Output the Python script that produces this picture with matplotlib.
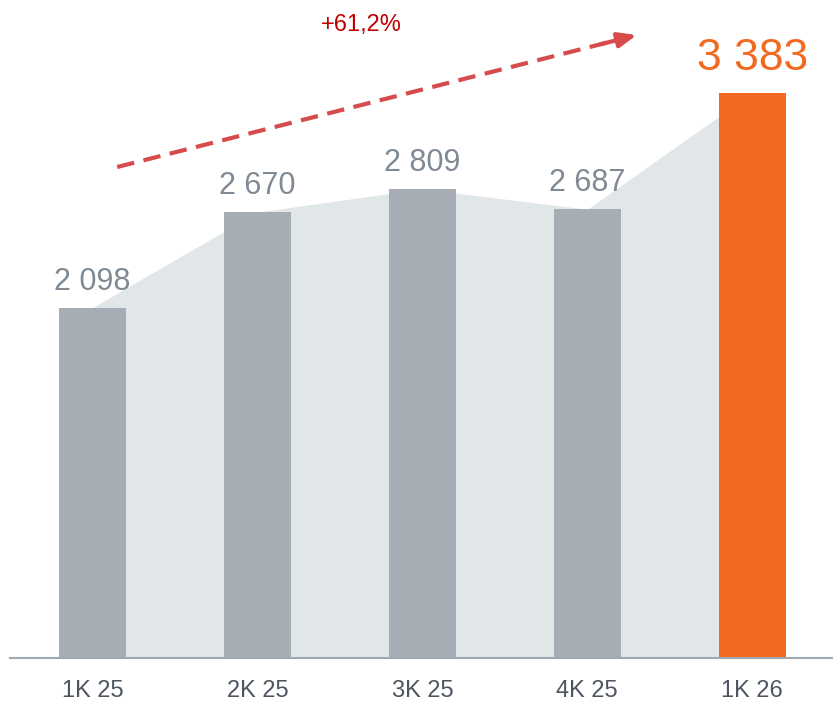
import matplotlib
matplotlib.use("Agg")
import matplotlib.pyplot as plt

# данные
kvartaly = ["1K 25", "2K 25", "3K 25", "4K 25", "1K 26"]
znacheniya = [2098, 2670, 2809, 2687, 3383]
podpisi = ["2 098", "2 670", "2 809", "2 687", "3 383"]
rost = "+61,2%"

plt.rcParams['font.family'] = ['Liberation Sans', 'DejaVu Sans']

seryj = '#A6ADB5'
fon = '#E1E6E9'
oranzh = '#F26A21'

fig = plt.figure(figsize=(8.33, 7.01), dpi=100)
ax = fig.add_axes([0.012, 0.0613, 0.988, 0.9387])

x = list(range(len(kvartaly)))
cveta = [seryj] * (len(kvartaly) - 1) + [oranzh]

# фон-площадь за столбцами
ax.fill_between(x, 0, znacheniya, color=fon, lw=0, zorder=1)
ax.bar(x, znacheniya, width=0.406, color=cveta, zorder=2)

for i, (v, t) in enumerate(zip(znacheniya, podpisi)):
    posl = i == len(kvartaly) - 1
    ax.annotate(t, (i, v), xytext=(0, 10 if posl else 8), textcoords='offset points',
                ha='center', va='bottom', fontsize=32 if posl else 22,
                color=oranzh if posl else '#7F8A94')

# пунктирная стрелка роста
x0, y0, x1, y1 = 0.15, 2940, 3.30, 3730
ax.plot([x0, x1 - 0.14], [y0, y0 + (y1 - y0) * (x1 - 0.14 - x0) / (x1 - x0)],
        color='#D64B4B', lw=3, dashes=(4.2, 2.3), zorder=3)
ax.annotate('', xy=(x1, y1), xytext=(x1 - 0.22, y1 - (y1 - y0) * 0.22 / (x1 - x0)),
            arrowprops=dict(arrowstyle='-|>,head_length=1.1,head_width=0.45',
                            color='#D64B4B', lw=3, shrinkA=0, shrinkB=0), zorder=3)
ax.text(1.63, 3790, rost, ha='center', va='center', fontsize=17, color='#C00000')

ax.set_xlim(-0.5, 4.49)
ax.set_ylim(0, 3940)
ax.set_xticks(x)
ax.set_xticklabels(kvartaly, fontsize=17, color='#4D5560')
ax.tick_params(axis='x', length=0, pad=16)
ax.set_yticks([])
for s in ['top', 'right', 'left']:
    ax.spines[s].set_visible(False)
ax.spines['bottom'].set_color('#A0A8B0')
ax.spines['bottom'].set_linewidth(1.5)
ax.spines['bottom'].set_zorder(4)

fig.savefig('out.png', dpi=100)
